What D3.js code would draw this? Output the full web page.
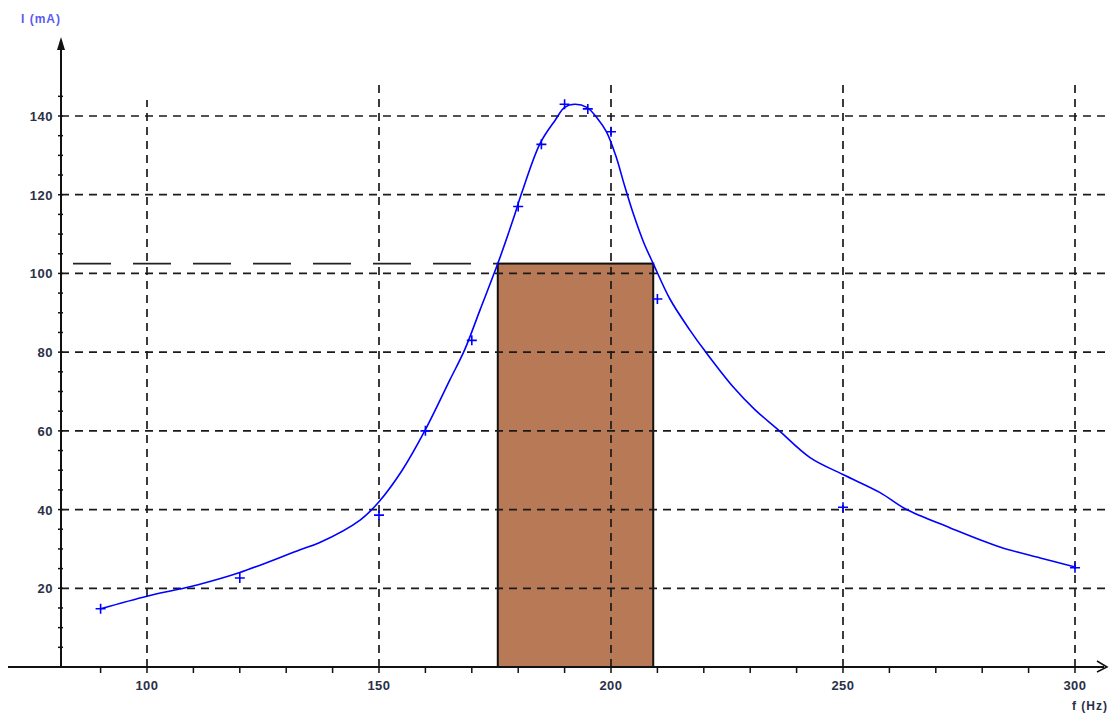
<!DOCTYPE html>
<html><head><meta charset="utf-8">
<script src="https://cdn.jsdelivr.net/npm/d3@7"></script>
<style>
html,body{margin:0;padding:0;background:#fff;}
#wrap{position:relative;width:1109px;height:713px;}
#wrap svg{position:absolute;left:0;top:0;display:block;}
text{font-family:"Liberation Sans",Arial,sans-serif;font-weight:bold;}
</style></head>
<body>
<div id="wrap">
<svg id="back" width="1109" height="713"></svg>
<svg id="chart" width="1109" height="713"></svg>
</div>
<script>
// Smoothed curve through the measurements
const curveF = [90, 100, 107, 111, 120, 133, 137, 146, 150, 155, 160, 165.3, 168.5, 171.8, 175.6, 178.9, 180.8, 184.7, 188, 190, 192.2, 194.8, 197, 199, 201, 203, 205, 207, 209.1, 212.7, 217, 220.3, 226.3, 231, 236, 242.9, 250, 258, 263.4, 273, 283.8, 292.5, 300];
const curveI = [14.8, 18, 19.8, 20.9, 24, 29.8, 31.5, 37.4, 42, 50, 60.3, 73, 80.7, 90.8, 102.5, 113.7, 120.6, 133, 139, 142.2, 143, 142.2, 139.5, 136, 130, 122, 114.5, 108, 102.5, 93.5, 85.6, 80.2, 71.2, 65.4, 60.3, 53.2, 48.9, 44.3, 40.2, 35.4, 30.5, 27.7, 25.4];
// Measured points (crosses)
const markF = [90, 120, 150, 160, 170, 180, 185, 190, 195, 200, 210, 250, 300];
const markI = [14.8, 22.6, 38.6, 60, 83, 117, 132.8, 143, 141.8, 136, 93.5, 40.6, 25.2];
// Bandwidth rectangle
const bandF = [175.6, 209.1];
const bandI = 102.5;
// Axis ticks
const xLabels = [100, 150, 200, 250, 300];
const xMinor = [90,100,110,120,130,140,150,160,170,180,190,200,210,220,230,240,250,260,270,280,290,300];
const yLabels = [20, 40, 60, 80, 100, 120, 140];
const yMinor = d3.range(5, 150, 5);

const back = d3.select("#back");
const svg = d3.select("#chart");
const x = d3.scaleLinear().domain([100, 300]).range([147, 1075]);
const y = d3.scaleLinear().domain([0, 140]).range([667, 116]);
const xLeft = x.invert(61);

// rectangle (background layer)
back.append("rect")
  .attr("x", x(bandF[0])).attr("y", y(bandI))
  .attr("width", x(bandF[1]) - x(bandF[0])).attr("height", y(0) - y(bandI))
  .attr("fill", "#b87a56").attr("stroke", "#111").attr("stroke-width", 2);

// level line
svg.append("line")
  .attr("x1", x(xLeft)).attr("x2", x(bandF[0]))
  .attr("y1", y(bandI)).attr("y2", y(bandI))
  .attr("stroke", "#222").attr("stroke-width", 1.6).attr("stroke-dasharray", "38,22")
  .attr("stroke-dashoffset", -12);

// grid (foreground layer, over the rectangle)
const grid = svg.append("g").attr("stroke", "#1a1a1a").attr("stroke-width", 1.7).attr("stroke-dasharray", "8,6");
grid.selectAll("line.h").data(yLabels).join("line").attr("class", "h")
  .attr("x1", 61).attr("x2", 1106).attr("y1", d => y(d)).attr("y2", d => y(d));
grid.selectAll("line.v").data(xLabels).join("line").attr("class", "v")
  .attr("x1", d => x(d)).attr("x2", d => x(d)).attr("y1", y(0)).attr("y2", d => d === 100 ? 100 : 85);

// axes
svg.append("path").attr("d", `M8,${y(0)} H1104 M61,${y(0)} V42`).attr("stroke", "#111").attr("stroke-width", 2).attr("fill", "none");
svg.append("path").attr("d", "M57,50 L61,37 L65,50 Z").attr("fill", "#111");
svg.append("path").attr("d", "M1097,661 L1107,667 L1097,672").attr("fill", "none").attr("stroke", "#111").attr("stroke-width", 1.5);

// ticks
svg.append("g").attr("stroke", "#111").attr("stroke-width", 1.5)
  .selectAll("line").data(xMinor).join("line")
  .attr("x1", d => x(d)).attr("x2", d => x(d)).attr("y1", y(0)).attr("y2", y(0) + 6);
svg.append("g").attr("stroke", "#111").attr("stroke-width", 1.5)
  .selectAll("line").data(yMinor).join("line")
  .attr("x1", 58).attr("x2", 63).attr("y1", d => y(d)).attr("y2", d => y(d));

// labels
svg.append("g").selectAll("text").data(xLabels).join("text")
  .attr("x", d => x(d)).attr("y", 690).attr("text-anchor", "middle")
  .attr("font-size", 13).attr("letter-spacing", 0.5).attr("fill", "#2a3048").text(d => d);
svg.append("g").selectAll("text").data(yLabels).join("text")
  .attr("x", 53).attr("y", d => y(d) + 5).attr("text-anchor", "end")
  .attr("font-size", 13).attr("letter-spacing", 0.5).attr("fill", "#2a3048").text(d => d);
svg.append("text").attr("x", 21).attr("y", 23).attr("font-size", 12).attr("letter-spacing", 1).attr("fill", "#5a5af0").text("I (mA)");
svg.append("text").attr("x", 1108).attr("y", 710).attr("text-anchor", "end").attr("font-size", 12).attr("letter-spacing", 1).attr("fill", "#2a3048").text("f (Hz)");

// curve
const pts = curveF.map((f, i) => [f, curveI[i]]);
svg.append("path").datum(pts)
  .attr("d", d3.line().x(d => x(d[0])).y(d => y(d[1])).curve(d3.curveCatmullRom.alpha(0.5)))
  .attr("fill", "none").attr("stroke", "#0000ff").attr("stroke-width", 1.6);

// crosses
const marks = markF.map((f, i) => [f, markI[i]]);
svg.append("g").selectAll("path").data(marks).join("path")
  .attr("d", d => `M${x(d[0]) - 5},${y(d[1])} h10 M${x(d[0])},${y(d[1]) - 5} v10`)
  .attr("stroke", "#0000ff").attr("stroke-width", 1.6);
</script>
</body></html>
